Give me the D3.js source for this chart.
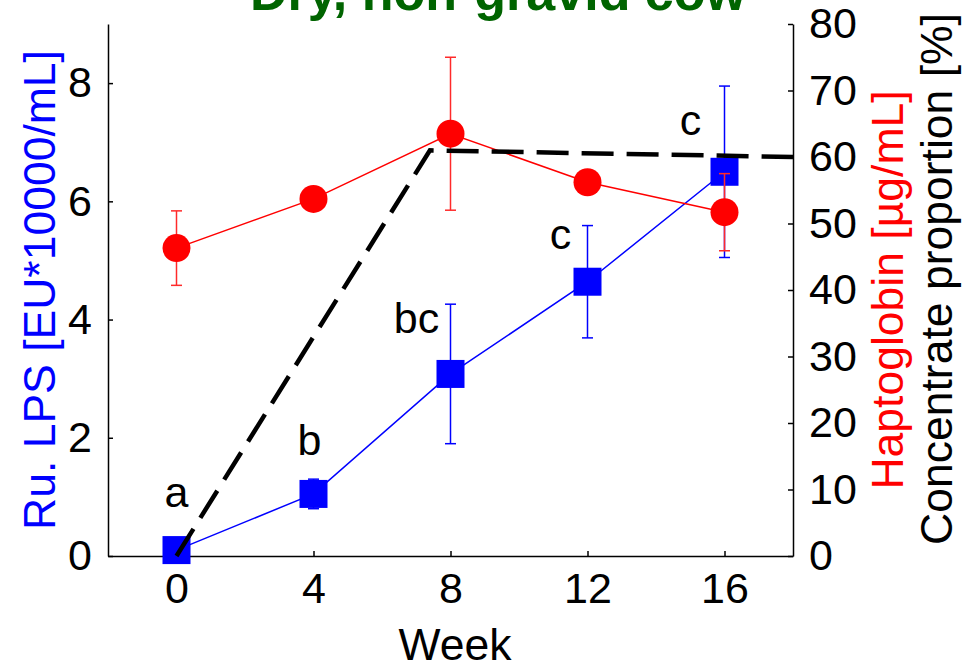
<!DOCTYPE html>
<html>
<head>
<meta charset="utf-8">
<script src="https://cdn.jsdelivr.net/npm/d3@7/dist/d3.min.js"></script>
<style>
  html, body { margin: 0; padding: 0; background: #fff; }
  svg { display: block; font-family: "Liberation Sans", Arial, sans-serif; }
</style>
</head>
<body>
<svg id="chart" width="970" height="668"></svg>
<script>
// Sampling weeks
const weeks = [0, 4, 8, 12, 16];

// Rumen LPS [EU*10000/mL] with SEM
const lpsMean = [0.10, 1.05, 3.08, 4.64, 6.50];
const lpsErr  = [0.05, 0.25, 1.18, 0.95, 1.45];
const lpsLetters = ["a", "b", "bc", "c", "c"];

// Haptoglobin [µg/mL] with SEM
const hpMean = [46.3, 53.7, 63.5, 56.2, 51.7];
const hpErr  = [5.6, 1.5, 11.5, 1.5, 5.8];

// Concentrate proportion of the ration [%]
const concWeeks = [0, 7.4, 18];
const concPct   = [0, 61, 60];

// Tick values
const xTicks = [0, 4, 8, 12, 16];
const yLeftTicks = [0, 2, 4, 6, 8];
const yRightTicks = [0, 10, 20, 30, 40, 50, 60, 70, 80];

const svg = d3.select("#chart");
const FS = 43;
const FS_TITLE = 44.5;
const plot = { left: 108, right: 793, top: 24, bottom: 556 };

const x = d3.scaleLinear().domain([-2, 18]).range([plot.left, plot.right]);
const yL = d3.scaleLinear().domain([0, 9]).range([plot.bottom, plot.top]);
const yR = d3.scaleLinear().domain([0, 80]).range([plot.bottom, plot.top]);

// Axes
function styleAxis(g) {
  g.select(".domain").attr("stroke", "#000").attr("stroke-width", 1.5);
  g.selectAll(".tick line").attr("stroke", "#000").attr("stroke-width", 1.5);
  g.selectAll(".tick text").attr("font-size", FS).attr("fill", "#000")
    .attr("font-family", "Liberation Sans, Arial, sans-serif");
}

svg.append("g")
  .attr("transform", `translate(0,${plot.bottom})`)
  .call(d3.axisBottom(x).tickValues(xTicks).tickSizeInner(-5).tickSizeOuter(0).tickPadding(16))
  .call(styleAxis)
  .call(g => g.selectAll(".tick text").attr("dy", "0.71em"));

svg.append("g")
  .attr("transform", `translate(${plot.left},0)`)
  .call(d3.axisLeft(yL).tickValues(yLeftTicks).tickSizeInner(-5).tickSizeOuter(0).tickPadding(16))
  .call(styleAxis);

svg.append("g")
  .attr("transform", `translate(${plot.right},0)`)
  .call(d3.axisRight(yR).tickValues(yRightTicks).tickSizeInner(-5).tickSizeOuter(0).tickPadding(16))
  .call(styleAxis);

// Rumen LPS series (blue squares)
const lps = weeks.map((w, i) => ({ w, m: lpsMean[i], e: lpsErr[i], t: lpsLetters[i] }));
const gL = svg.append("g");
gL.append("path")
  .datum(lps)
  .attr("fill", "none").attr("stroke", "#0000ff").attr("stroke-width", 1.5)
  .attr("d", d3.line().x(d => x(d.w)).y(d => yL(d.m)));
const capW = 5.5;
gL.selectAll("g.err").data(lps).join("g").attr("class", "err")
  .attr("stroke", "#0000ff").attr("stroke-width", 1.5)
  .each(function(d) {
    const g = d3.select(this), cx = x(d.w);
    g.append("line").attr("x1", cx).attr("x2", cx).attr("y1", yL(d.m - d.e)).attr("y2", yL(d.m + d.e));
    g.append("line").attr("x1", cx - capW).attr("x2", cx + capW).attr("y1", yL(d.m + d.e)).attr("y2", yL(d.m + d.e));
    g.append("line").attr("x1", cx - capW).attr("x2", cx + capW).attr("y1", yL(d.m - d.e)).attr("y2", yL(d.m - d.e));
  });
const sq = 28;
gL.selectAll("rect").data(lps).join("rect")
  .attr("x", d => x(d.w) - sq / 2).attr("y", d => yL(d.m) - sq / 2)
  .attr("width", sq).attr("height", sq).attr("fill", "#0000ff");

// Significance letters, placed relative to each point's upper error bar
const letterOffset = [[0, -40], [-4, -24], [-34, 29], [-27, 23], [-34, 49]];
gL.selectAll("text.sig").data(lps).join("text").attr("class", "sig")
  .attr("x", (d, i) => x(d.w) + letterOffset[i][0])
  .attr("y", (d, i) => yL(d.m + d.e) + letterOffset[i][1])
  .attr("text-anchor", "middle").attr("font-size", FS).attr("fill", "#000")
  .text(d => d.t);

// Haptoglobin series (red circles)
const hp = weeks.map((w, i) => ({ w, m: hpMean[i], e: hpErr[i] }));
const gH = svg.append("g");
gH.append("path")
  .datum(hp)
  .attr("fill", "none").attr("stroke", "#ff0000").attr("stroke-width", 1.5)
  .attr("d", d3.line().x(d => x(d.w)).y(d => yR(d.m)));
gH.selectAll("g.err").data(hp).join("g").attr("class", "err")
  .attr("stroke", "#ff2a2a").attr("stroke-width", 1.5)
  .each(function(d) {
    const g = d3.select(this), cx = x(d.w);
    g.append("line").attr("x1", cx).attr("x2", cx).attr("y1", yR(d.m - d.e)).attr("y2", yR(d.m + d.e));
    g.append("line").attr("x1", cx - capW).attr("x2", cx + capW).attr("y1", yR(d.m + d.e)).attr("y2", yR(d.m + d.e));
    g.append("line").attr("x1", cx - capW).attr("x2", cx + capW).attr("y1", yR(d.m - d.e)).attr("y2", yR(d.m - d.e));
  });
gH.selectAll("circle").data(hp).join("circle")
  .attr("cx", d => x(d.w)).attr("cy", d => yR(d.m)).attr("r", 14)
  .attr("fill", "#ff0000");

// Concentrate proportion (black dashed)
const conc = concWeeks.map((w, i) => ({ w, v: concPct[i] }));
svg.append("path")
  .datum(conc)
  .attr("fill", "none").attr("stroke", "#000").attr("stroke-width", 4.5)
  .attr("stroke-dasharray", "32,13")
  .attr("d", d3.line().x(d => x(d.w)).y(d => yR(d.v)));

// Axis titles
svg.append("text")
  .attr("transform", `translate(55,${(plot.top + plot.bottom) / 2}) rotate(-90)`)
  .attr("text-anchor", "middle").attr("font-size", FS_TITLE).attr("fill", "#0000ff")
  .text("Ru. LPS [EU*10000/mL]");

svg.append("text")
  .attr("transform", `translate(903,290) rotate(-90)`)
  .attr("text-anchor", "middle").attr("font-size", FS_TITLE).attr("fill", "#ff0000")
  .text("Haptoglobin [µg/mL]");

svg.append("text")
  .attr("transform", `translate(952,279) rotate(-90)`)
  .attr("text-anchor", "middle").attr("font-size", FS_TITLE).attr("fill", "#000")
  .text("Concentrate proportion [%]");

svg.append("text")
  .attr("x", 455).attr("y", 660)
  .attr("text-anchor", "middle").attr("font-size", FS_TITLE).attr("fill", "#000")
  .text("Week");

// Title
svg.append("text")
  .attr("x", 498).attr("y", 10)
  .attr("text-anchor", "middle").attr("font-size", 52).attr("font-weight", "bold")
  .attr("fill", "#006400")
  .text("Dry, non-gravid cow");
</script>
</body>
</html>
